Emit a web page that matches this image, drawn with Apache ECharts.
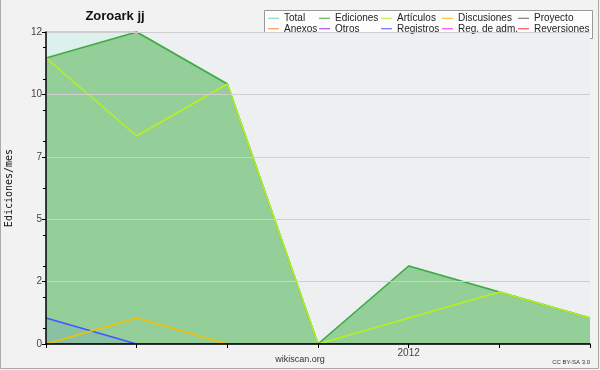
<!DOCTYPE html>
<html>
<head>
<meta charset="utf-8">
<script src="https://cdn.jsdelivr.net/npm/echarts@6/dist/echarts.min.js"></script>
<style>
html,body{margin:0;padding:0;background:#f2f2f2;}
#main{width:600px;height:370px;}
</style>
</head>
<body>
<div id="main"></div>
<script>
// meses (sep 2011 - mar 2012)
var meses = ['2011-09','2011-10','2011-11','2011-12','2012-01','2012-02','2012-03'];
var total       = [12, 12, 10, 0, 3, 2, 1];
var ediciones   = [11, 12, 10, 0, 3, 2, 1];
var articulos   = [11, 8, 10, 0, 1, 2, 1];
var discusiones = [0, 1, 0, 0, 0, 0, 0];
var registros   = [1, 0, 0, 0, 0, 0, 0];
var proyecto    = [0, 0, 0, 0, 0, 0, 0];
var anexos      = [0, 0, 0, 0, 0, 0, 0];
var otros       = [0, 0, 0, 0, 0, 0, 0];
var regAdm      = [0, 0, 0, 0, 0, 0, 0];
var reversiones = [0, 0, 0, 0, 0, 0, 0];
var minorTicks  = [0.6, 1.8, 3.0, 4.2, 6.0, 7.8, 9.0, 10.2, 11.4];

var fuente = 'Liberation Sans';

function linea(nombre, datos, color, area){
  var s = {
    name: nombre,
    type: 'line',
    data: datos,
    symbol: 'none',
    silent: true,
    lineStyle: {color: color, width: 1.5},
    itemStyle: {color: color}
  };
  if(area){ s.areaStyle = {color: area, opacity: 1}; }
  return s;
}

function leyenda(x, nombres){
  return {
    orient: 'vertical',
    left: x,
    top: 13,
    padding: 0,
    itemGap: 0,
    itemWidth: 11,
    itemHeight: 1,
    icon: 'rect',
    selectedMode: false,
    textStyle: {fontFamily: fuente, fontSize: 10, lineHeight: 10.5, color: '#222'},
    data: nombres
  };
}

var myChart = echarts.init(document.getElementById('main'));
var option = {
  backgroundColor: '#f2f2f2',
  animation: false,
  grid: {left: 46, right: 10, top: 32, bottom: 26, outerBoundsMode: 'none', containLabel: false,
         show: true, backgroundColor: '#eeeff0', borderWidth: 0},
  legend: [
    leyenda(268, ['Total','Anexos']),
    leyenda(319, ['Ediciones','Otros']),
    leyenda(381, ['Artículos','Registros']),
    leyenda(442, ['Discusiones','Reg. de adm.']),
    leyenda(518, ['Proyecto','Reversiones'])
  ],
  graphic: [
    {type: 'rect', z: -1, shape: {x: 264.5, y: 10.5, width: 328, height: 28}, style: {fill: '#fdfdfd', stroke: '#999', lineWidth: 1}},
    {type: 'text', x: 115, y: 16, style: {text: 'Zoroark jj', align: 'center', verticalAlign: 'middle', font: 'bold 13px "Liberation Sans"', fill: '#111'}},
    {type: 'text', x: 300, y: 360, style: {text: 'wikiscan.org', align: 'center', verticalAlign: 'middle', font: '9px "Liberation Sans"', fill: '#333'}},
    {type: 'text', x: 590, y: 362, style: {text: 'CC BY-SA 3.0', align: 'right', verticalAlign: 'middle', font: '6px "Liberation Sans"', fill: '#333'}},
    {type: 'polyline', shape: {points: [[0.5,0],[0.5,368.5],[598.5,368.5],[598.5,0]]}, style: {stroke: '#aaa', fill: null, lineWidth: 1}}
  ],
  xAxis: {
    type: 'category',
    data: meses,
    boundaryGap: false,
    z: 10,
    axisLine: {lineStyle: {color: '#000', width: 1.5}},
    axisTick: {show: true, interval: 0, length: 4, lineStyle: {color: '#000'}},
    axisLabel: {
      interval: 0, color: '#444', fontFamily: fuente, fontSize: 10, margin: 4,
      formatter: function(v){ return v.indexOf('-01') > 0 ? v.slice(0,4) : ''; }
    },
    splitLine: {show: false}
  },
  yAxis: [
    {
      type: 'value',
      min: 0, max: 12, interval: 2.4,
      z: 10,
      name: 'Ediciones/mes',
      nameLocation: 'middle',
      nameGap: 32,
      nameTextStyle: {fontFamily: 'DejaVu Sans Mono', fontSize: 10, color: '#111'},
      axisLine: {show: true, lineStyle: {color: '#000', width: 1.5}},
      axisTick: {show: true, length: 4, lineStyle: {color: '#000'}},
      axisLabel: {color: '#444', fontFamily: fuente, fontSize: 10, margin: 4,
        formatter: function(v){ return Math.round(v); }},
      splitLine: {lineStyle: {color: '#cfcfcf', width: 1}}
    },
    {
      type: 'value',
      min: 0, max: 12,
      position: 'left',
      z: 10,
      axisLine: {show: false},
      axisTick: {show: true, length: 3, customValues: minorTicks, lineStyle: {color: '#000'}},
      axisLabel: {show: false},
      splitLine: {show: false}
    }
  ],
  series: [
    linea('Total', total, '#7fcfc2', 'rgba(192,244,228,0.4)'),
    linea('Ediciones', ediciones, '#3fab3f', 'rgba(76,174,72,0.5)'),
    linea('Registros', registros, '#4456ff', 'rgba(48,80,255,0.1)'),
    linea('Artículos', articulos, '#b9ef1e'),
    linea('Discusiones', discusiones, '#f2c200'),
    linea('Proyecto', proyecto, '#666666'),
    linea('Anexos', anexos, '#ff8533'),
    linea('Otros', otros, '#9933ee'),
    linea('Reg. de adm.', regAdm, '#e633e6'),
    linea('Reversiones', reversiones, '#ff3333')
  ]
};
myChart.setOption(option);
</script>
</body>
</html>
